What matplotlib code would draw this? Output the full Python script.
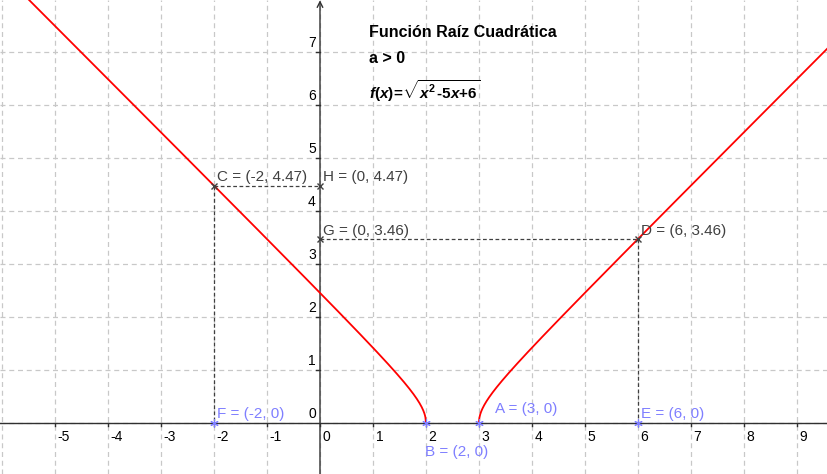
import numpy as np
import matplotlib.pyplot as plt

# data
x_ticks = [-5, -4, -3, -2, -1, 0, 1, 2, 3, 4, 5, 6, 7, 8, 9]
y_ticks = [1, 2, 3, 4, 5, 6, 7]
coef = [1, -5, 6]  # x^2 - 5x + 6

blue_pts = {'A': (3, 0), 'B': (2, 0), 'E': (6, 0), 'F': (-2, 0)}
gray_pts = {'C': (-2, 4.47), 'D': (6, 3.46), 'G': (0, 3.46), 'H': (0, 4.47)}

BLUE = '#7f7fff'
GRAY = '#404040'
RED = '#ff0000'

plt.rcParams['font.family'] = ['Liberation Sans', 'DejaVu Sans']
plt.rcParams['mathtext.fontset'] = 'custom'
plt.rcParams['mathtext.rm'] = 'Liberation Sans:bold'
plt.rcParams['mathtext.bf'] = 'Liberation Sans:bold'
plt.rcParams['mathtext.it'] = 'Liberation Sans:italic:bold'

fig = plt.figure(figsize=(8.27, 4.74), dpi=100)
ax = fig.add_axes([0, 0, 1, 1])
ax.set_xlim(-6.04, 9.57)
ax.set_ylim(-0.968, 7.975)
ax.axis('off')

# grid
for gx in range(-6, 10):
    ax.axvline(gx, color='#c8c8c8', lw=0.9, ls=(0, (4, 3)), zorder=0)
for gy in range(0, 8):
    ax.axhline(gy, color='#c8c8c8', lw=0.9, ls=(0, (4, 3)), zorder=0)

# axes
ax.axhline(0, color='#303030', lw=1.0, zorder=1)
ax.annotate('', xy=(0, 7.97), xytext=(0, -0.97),
            arrowprops=dict(arrowstyle='->', color='#303030', lw=1.0,
                            shrinkA=0, shrinkB=0, mutation_scale=10), zorder=1)

# tick marks and labels
for t in x_ticks:
    ax.plot([t, t], [0, -0.07], color='#303030', lw=1.0)
    ax.text(t + 0.05, -0.13, str(t), fontsize=10, ha='left', va='top', color='black')
for t in y_ticks:
    ax.plot([-0.07, 0], [t, t], color='#303030', lw=1.0)
    ax.text(-0.08, t + 0.03, str(t), fontsize=10, ha='right', va='bottom', color='black')
ax.text(-0.08, 0.03, '0', fontsize=10, ha='right', va='bottom', color='black')

# function
xl = np.linspace(-6.1, 2, 800)
xr = np.linspace(3, 9.7, 800)
p = np.poly1d(coef)
ax.plot(xl, np.sqrt(np.clip(p(xl), 0, None)), color=RED, lw=1.3, zorder=3)
ax.plot(xr, np.sqrt(np.clip(p(xr), 0, None)), color=RED, lw=1.3, zorder=3)

# dashed helper lines
dash = dict(color=GRAY, lw=0.9, ls=(0, (3, 2)), zorder=2)
ax.plot([gray_pts['C'][0], gray_pts['H'][0]], [gray_pts['C'][1], gray_pts['H'][1]], **dash)
ax.plot([gray_pts['C'][0], blue_pts['F'][0]], [gray_pts['C'][1], blue_pts['F'][1]], **dash)
ax.plot([gray_pts['G'][0], gray_pts['D'][0]], [gray_pts['G'][1], gray_pts['D'][1]], **dash)
ax.plot([gray_pts['D'][0], blue_pts['E'][0]], [gray_pts['D'][1], blue_pts['E'][1]], **dash)

# points
for name, (px, py) in gray_pts.items():
    ax.plot(px, py, marker='x', color=GRAY, ms=5, mew=1.0, zorder=4)
for name, (px, py) in blue_pts.items():
    ax.plot(px, py, marker=(6, 2, 0), color=BLUE, ms=6, mew=0.8, zorder=4)


def fmt(v):
    return ('%.2f' % v).rstrip('0').rstrip('.')


lab = dict(fontsize=11, ha='left', va='bottom')
for name, (px, py) in gray_pts.items():
    ax.text(px + 0.05, py + 0.03, '%s = (%s, %s)' % (name, fmt(px), fmt(py)), color=GRAY, **lab)
for name in ['A', 'E', 'F']:
    px, py = blue_pts[name]
    dx, dy = (0.3, 0.12) if name == 'A' else (0.05, 0.03)
    ax.text(px + dx, py + dy, '%s = (%s, %s)' % (name, fmt(px), fmt(py)), color=BLUE, **lab)
px, py = blue_pts['B']
ax.text(px - 0.02, py - 0.42, 'B = (%s, %s)' % (fmt(px), fmt(py)), color=BLUE,
        fontsize=11, ha='left', va='top')

# title text
ax.text(0.93, 7.37, 'Función Raíz Cuadrática', fontsize=11.5, fontweight='bold', va='center')
ax.text(0.93, 6.88, 'a > 0', fontsize=11.5, fontweight='bold', va='center')
ax.text(0.93, 6.25, r'$f\mathrm{(}x\mathrm{)}\!{=}\!\sqrt{x^{\mathrm{2}}\,\text{-}\mathrm{5}x\mathrm{+6}}$',
        fontsize=11, va='center')

fig.savefig('out.png', dpi=100)
